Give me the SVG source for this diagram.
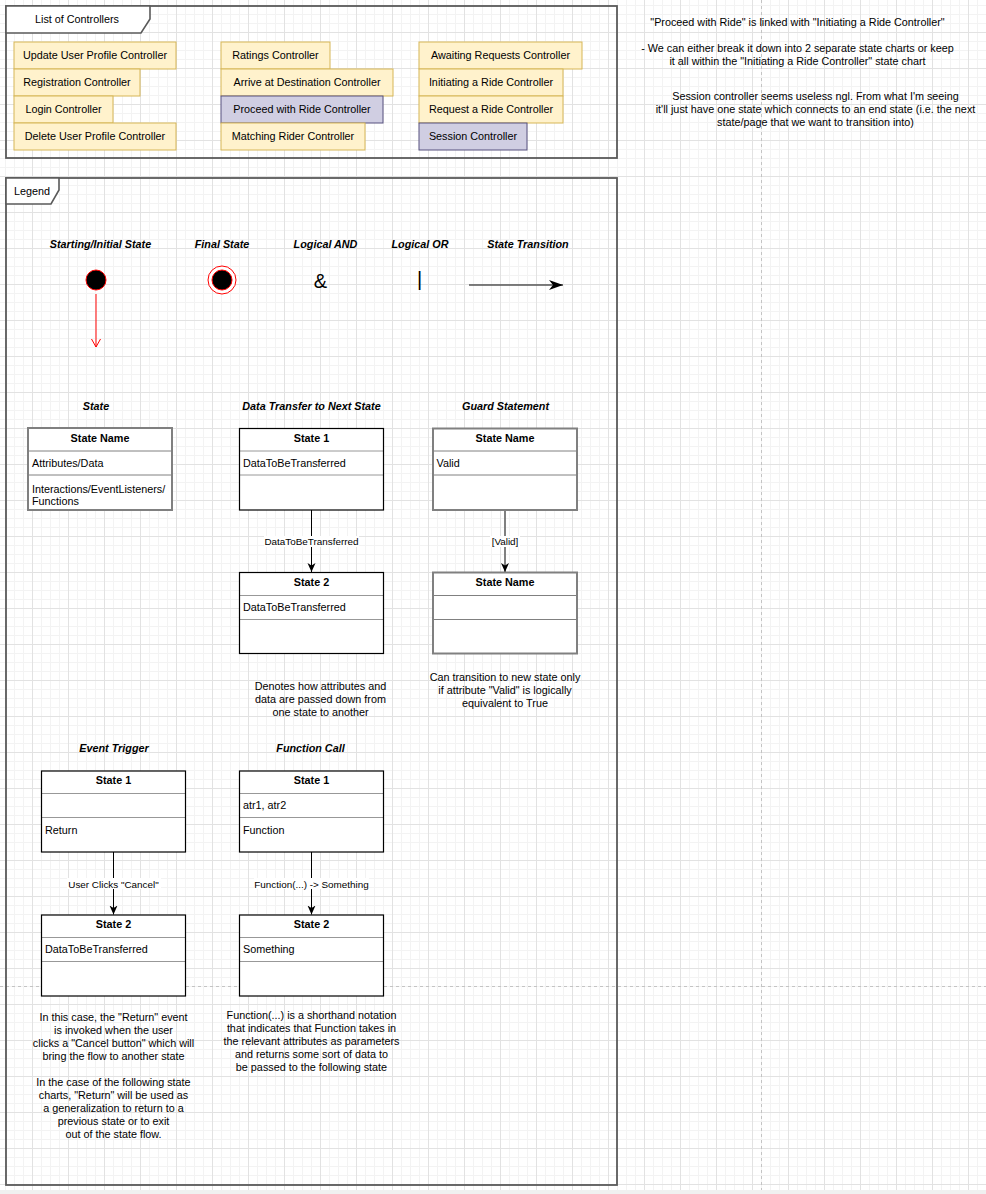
<svg xmlns="http://www.w3.org/2000/svg" width="986" height="1194" viewBox="0 0 986 1194">
<defs>
<pattern id="grid" patternUnits="userSpaceOnUse" x="32" y="32" width="36" height="36">
<rect x="0" y="0" width="36" height="36" fill="#ffffff"/>
<rect x="9" y="0" width="1" height="36" fill="#f3f3f3"/>
<rect x="18" y="0" width="1" height="36" fill="#f3f3f3"/>
<rect x="27" y="0" width="1" height="36" fill="#f3f3f3"/>
<rect x="0" y="9" width="36" height="1" fill="#f3f3f3"/>
<rect x="0" y="18" width="36" height="1" fill="#f3f3f3"/>
<rect x="0" y="27" width="36" height="1" fill="#f3f3f3"/>
<rect x="0" y="0" width="1" height="36" fill="#e2e2e2"/>
<rect x="0" y="0" width="36" height="1" fill="#e2e2e2"/>
</pattern>
<marker id="arr" markerUnits="userSpaceOnUse" markerWidth="10" markerHeight="10" viewBox="0 0 10 10" refX="9" refY="5" orient="auto">
<path d="M0,1 L9,5 L0,9 L2.5,5 Z" fill="#000"/>
</marker>
<marker id="arrBig" markerUnits="userSpaceOnUse" markerWidth="15" markerHeight="12" viewBox="0 0 15 12" refX="14" refY="6" orient="auto">
<path d="M0,1 L14,6 L0,11 L4,6 Z" fill="#000"/>
</marker>
<style>
text{font-family:"Liberation Sans",Arial,sans-serif;fill:#000;}
.t{font-size:10.8px;}
.c{text-anchor:middle;}
.h{font-size:10.8px;font-weight:bold;font-style:italic;text-anchor:middle;}
.b{font-size:10.8px;font-weight:bold;text-anchor:middle;}
.el{font-size:9.9px;text-anchor:middle;}
.frame{fill:none;stroke:#5a5a5a;stroke-width:1.8;}
.tab{fill:#fff;stroke:#5a5a5a;stroke-width:1.6;}
.y{fill:#fff2cc;stroke:#d6b656;stroke-width:1;}
.p{fill:#d0cee2;stroke:#56517e;stroke-width:1;}
.s{fill:#fff;stroke:#000;stroke-width:1.2;}
.g{fill:#fff;stroke:#808080;stroke-width:2;}
.dv{stroke:#000;stroke-width:0.8;opacity:0.5;}
.dvg{stroke:#808080;stroke-width:1;}
.pb{stroke:#c4c4c4;stroke-width:1;stroke-dasharray:3,3;fill:none;}
</style>
</defs>
<rect x="0" y="0" width="986" height="1190" fill="url(#grid)"/>
<rect x="0" y="1190" width="986" height="4" fill="#f0f0f0"/>
<line class="pb" x1="761.5" y1="0" x2="761.5" y2="1190"/>
<line class="pb" x1="0" y1="986.5" x2="986" y2="986.5"/>

<g id="controllers-frame">
<rect class="frame" x="6" y="6" width="611" height="152"/>
<path class="tab" d="M6,6 H150 V19 L141,33 H6 Z"/>
<text class="t c" x="77" y="23">List of Controllers</text>
</g>
<g id="ctrl-update"><rect class="y" x="14" y="42" width="162" height="27"/><text class="t c" x="95" y="59">Update User Profile Controller</text></g>
<g id="ctrl-registration"><rect class="y" x="14" y="69" width="126" height="27"/><text class="t c" x="77" y="86">Registration Controller</text></g>
<g id="ctrl-login"><rect class="y" x="14" y="96" width="99" height="27"/><text class="t c" x="63.5" y="113">Login Controller</text></g>
<g id="ctrl-delete"><rect class="y" x="14" y="123" width="162" height="27"/><text class="t c" x="95" y="140">Delete User Profile Controller</text></g>
<g id="ctrl-ratings"><rect class="y" x="221" y="42" width="109" height="27"/><text class="t c" x="275.5" y="59">Ratings Controller</text></g>
<g id="ctrl-arrive"><rect class="y" x="221" y="69" width="172" height="27"/><text class="t c" x="307" y="86">Arrive at Destination Controller</text></g>
<g id="ctrl-proceed"><rect class="p" x="221" y="96" width="162" height="27"/><text class="t c" x="302" y="113">Proceed with Ride Controller</text></g>
<g id="ctrl-matching"><rect class="y" x="221" y="123" width="144" height="27"/><text class="t c" x="293" y="140">Matching Rider Controller</text></g>
<g id="ctrl-awaiting"><rect class="y" x="419" y="42" width="163" height="27"/><text class="t c" x="500.5" y="59">Awaiting Requests Controller</text></g>
<g id="ctrl-initiating"><rect class="y" x="419" y="69" width="144" height="27"/><text class="t c" x="491" y="86">Initiating a Ride Controller</text></g>
<g id="ctrl-request"><rect class="y" x="419" y="96" width="144" height="27"/><text class="t c" x="491" y="113">Request a Ride Controller</text></g>
<g id="ctrl-session"><rect class="p" x="419" y="123" width="108" height="27"/><text class="t c" x="473" y="140">Session Controller</text></g>

<g id="notes">
<text class="t c" x="797.5" y="26">"Proceed with Ride" is linked with "Initiating a Ride Controller"</text>
<text class="t c" x="797.5" y="52">- We can either break it down into 2 separate state charts or keep</text>
<text class="t c" x="797.5" y="65">it all within the "Initiating a Ride Controller" state chart</text>
<text class="t c" x="815.5" y="100">Session controller seems useless ngl. From what I'm seeing</text>
<text class="t c" x="815.5" y="113">it'll just have one state which connects to an end state (i.e. the next</text>
<text class="t c" x="815.5" y="126">state/page that we want to transition into)</text>
</g>

<g id="legend-frame">
<rect class="frame" x="6" y="178" width="611" height="1007"/>
<path class="tab" d="M6,178 H59 V190 L51,204 H6 Z"/>
<text class="t c" x="32" y="194.5">Legend</text>
</g>

<g id="legend-headings">
<text class="h" x="100.5" y="248">Starting/Initial State</text>
<text class="h" x="222" y="248">Final State</text>
<text class="h" x="325.5" y="248">Logical AND</text>
<text class="h" x="420" y="248">Logical OR</text>
<text class="h" x="528" y="248">State Transition</text>
<text class="h" x="96" y="410">State</text>
<text class="h" x="311.5" y="410">Data Transfer to Next State</text>
<text class="h" x="505.5" y="410">Guard Statement</text>
<text class="h" x="114" y="752">Event Trigger</text>
<text class="h" x="310.5" y="752">Function Call</text>
</g>

<g id="initial-state">
<circle cx="96" cy="280" r="10" fill="#000" stroke="#ff0000" stroke-width="1"/>
</g>
<g id="final-state">
<circle cx="222" cy="280" r="14" fill="#fff" stroke="#ff0000" stroke-width="1"/>
<circle cx="222" cy="280" r="10" fill="#000" stroke="#ff0000" stroke-width="1"/>
</g>
<g id="logical-and"><text x="320.5" y="288" style="font-size:20px;text-anchor:middle;">&amp;</text></g>
<g id="logical-or"><text x="419.5" y="286" style="font-size:20px;text-anchor:middle;">|</text></g>

<g id="state-legend">
<rect class="g" x="28" y="428" width="144" height="82"/>
<line class="dvg" x1="29" y1="451" x2="171" y2="451"/>
<line class="dvg" x1="29" y1="475" x2="171" y2="475"/>
<text class="b" x="100" y="442">State Name</text>
<text class="t" x="32" y="467">Attributes/Data</text>
<text class="t" x="32" y="493">Interactions/EventListeners/</text>
<text class="t" x="32" y="505">Functions</text>
</g>

<g id="dt-state1">
<rect class="s" x="239.5" y="428.5" width="144" height="81.5"/>
<line class="dv" x1="240" y1="451" x2="383" y2="451"/>
<line class="dv" x1="240" y1="475" x2="383" y2="475"/>
<text class="b" x="311.5" y="442">State 1</text>
<text class="t" x="243" y="467">DataToBeTransferred</text>
</g>
<g id="dt-state2">
<rect class="s" x="239.5" y="572.5" width="144" height="81"/>
<line class="dv" x1="240" y1="595.5" x2="383" y2="595.5"/>
<line class="dv" x1="240" y1="619.5" x2="383" y2="619.5"/>
<text class="b" x="311.5" y="586">State 2</text>
<text class="t" x="243" y="611">DataToBeTransferred</text>
</g>

<g id="guard-state1">
<rect class="g" x="433" y="428.5" width="144" height="81.5"/>
<line class="dvg" x1="434" y1="451" x2="576" y2="451"/>
<line class="dvg" x1="434" y1="475" x2="576" y2="475"/>
<text class="b" x="505" y="442">State Name</text>
<text class="t" x="436.5" y="467">Valid</text>
</g>
<g id="guard-state2">
<rect class="g" x="433" y="572.5" width="144" height="81"/>
<line class="dvg" x1="434" y1="595.5" x2="576" y2="595.5"/>
<line class="dvg" x1="434" y1="619.5" x2="576" y2="619.5"/>
<text class="b" x="505" y="586">State Name</text>
</g>

<g id="et-state1">
<rect class="s" x="41.5" y="771" width="144" height="81"/>
<line class="dv" x1="42" y1="793.5" x2="185" y2="793.5"/>
<line class="dv" x1="42" y1="817.5" x2="185" y2="817.5"/>
<text class="b" x="113.5" y="784">State 1</text>
<text class="t" x="45" y="834">Return</text>
</g>
<g id="et-state2">
<rect class="s" x="41.5" y="915" width="144" height="81"/>
<line class="dv" x1="42" y1="937.5" x2="185" y2="937.5"/>
<line class="dv" x1="42" y1="961.5" x2="185" y2="961.5"/>
<text class="b" x="113.5" y="928">State 2</text>
<text class="t" x="45" y="953">DataToBeTransferred</text>
</g>

<g id="fc-state1">
<rect class="s" x="239.5" y="771" width="144" height="81"/>
<line class="dv" x1="240" y1="793.5" x2="383" y2="793.5"/>
<line class="dv" x1="240" y1="817.5" x2="383" y2="817.5"/>
<text class="b" x="311.5" y="784">State 1</text>
<text class="t" x="243" y="809">atr1, atr2</text>
<text class="t" x="243" y="834">Function</text>
</g>
<g id="fc-state2">
<rect class="s" x="239.5" y="915" width="144" height="81"/>
<line class="dv" x1="240" y1="937.5" x2="383" y2="937.5"/>
<line class="dv" x1="240" y1="961.5" x2="383" y2="961.5"/>
<text class="b" x="311.5" y="928">State 2</text>
<text class="t" x="243" y="953">Something</text>
</g>

<g id="descriptions">
<text class="t c" x="320.5" y="690">Denotes how attributes and</text>
<text class="t c" x="320.5" y="703">data are passed down from</text>
<text class="t c" x="320.5" y="716">one state to another</text>
<text class="t c" x="505" y="681">Can transition to new state only</text>
<text class="t c" x="505" y="694">if attribute "Valid" is logically</text>
<text class="t c" x="505" y="707">equivalent to True</text>
<text class="t c" x="113.5" y="1020.5">In this case, the "Return" event</text>
<text class="t c" x="113.5" y="1033.5">is invoked when the user</text>
<text class="t c" x="113.5" y="1046.5">clicks a "Cancel button" which will</text>
<text class="t c" x="113.5" y="1059.5">bring the flow to another state</text>
<text class="t c" x="113.5" y="1086">In the case of the following state</text>
<text class="t c" x="113.5" y="1099">charts, "Return" will be used as</text>
<text class="t c" x="113.5" y="1112">a generalization to return to a</text>
<text class="t c" x="113.5" y="1125">previous state or to exit</text>
<text class="t c" x="113.5" y="1138">out of the state flow.</text>
<text class="t c" x="311.5" y="1019">Function(...) is a shorthand notation</text>
<text class="t c" x="311.5" y="1032">that indicates that Function takes in</text>
<text class="t c" x="311.5" y="1045">the relevant attributes as parameters</text>
<text class="t c" x="311.5" y="1058">and returns some sort of data to</text>
<text class="t c" x="311.5" y="1071">be passed to the following state</text>
</g>

<g id="connectors">
<line x1="96" y1="294" x2="96" y2="347" stroke="#ff0000" stroke-width="1"/>
<polyline points="91.5,339 96,347 100.5,339" fill="none" stroke="#ff0000" stroke-width="1"/>
<line x1="469" y1="285" x2="563" y2="285" stroke="#555" stroke-width="1.5" marker-end="url(#arrBig)"/>
<line x1="311.5" y1="510" x2="311.5" y2="572" stroke="#000" stroke-width="1" marker-end="url(#arr)"/>
<rect x="264" y="536" width="95" height="11" fill="#fff"/>
<text class="el" x="311.5" y="545">DataToBeTransferred</text>
<line x1="505" y1="510" x2="505" y2="572" stroke="#808080" stroke-width="2" marker-end="url(#arr)"/>
<rect x="490" y="536" width="30" height="11" fill="#fff"/>
<text class="el" x="505" y="545">[Valid]</text>
<line x1="113.5" y1="852" x2="113.5" y2="914.5" stroke="#000" stroke-width="1" marker-end="url(#arr)"/>
<rect x="67" y="878" width="94" height="11" fill="#fff"/>
<text class="el" x="113.5" y="887.5">User Clicks "Cancel"</text>
<line x1="311.5" y1="852" x2="311.5" y2="914.5" stroke="#000" stroke-width="1" marker-end="url(#arr)"/>
<rect x="254" y="878" width="115" height="11" fill="#fff"/>
<text class="el" x="311.5" y="887.5">Function(...) -&gt; Something</text>
</g>
</svg>
